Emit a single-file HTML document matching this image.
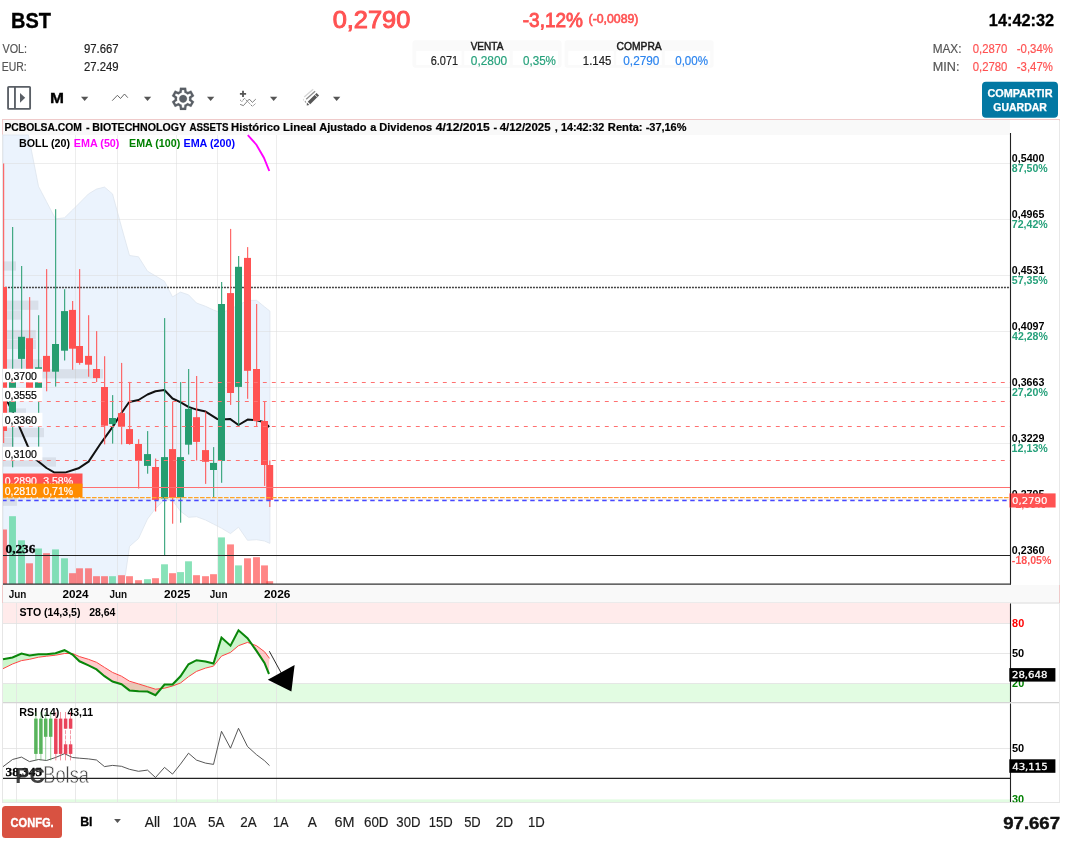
<!DOCTYPE html>
<html lang="es">
<head>
<meta charset="utf-8">
<title>BST - BIOTECHNOLOGY ASSETS</title>
<style>
html,body{margin:0;padding:0;background:#fff;}
body{width:1073px;height:843px;overflow:hidden;font-family:"Liberation Sans",sans-serif;}
svg{display:block;position:absolute;left:0;top:0;}
svg text{white-space:pre;}
</style>
</head>
<body>
<svg width="1073" height="843" viewBox="0 0 1073 843">
<defs>
<clipPath id="mainclip"><rect x="3" y="135" width="1007" height="449"/></clipPath>
<clipPath id="botclip"><rect x="3" y="703" width="1056" height="99.2"/></clipPath>
</defs>
<rect x="0" y="0" width="1073" height="843" fill="#fff"/>
<g id="header">
<text x="11.01" y="27.7" font-size="21.8" font-weight="bold" fill="#000" font-family="'Liberation Sans', sans-serif" text-anchor="start" textLength="39.93" lengthAdjust="spacingAndGlyphs" stroke="#000" stroke-width="0.35">BST</text>
<text x="2.43" y="52.7" font-size="12" font-weight="normal" fill="#555" font-family="'Liberation Sans', sans-serif" text-anchor="start" textLength="24.65" lengthAdjust="spacingAndGlyphs" stroke="#555" stroke-width="0.18">VOL:</text>
<text x="83.9" y="52.7" font-size="12" font-weight="normal" fill="#222" font-family="'Liberation Sans', sans-serif" text-anchor="start" textLength="34.68" lengthAdjust="spacingAndGlyphs" stroke="#222" stroke-width="0.18">97.667</text>
<text x="1.81" y="70.8" font-size="12" font-weight="normal" fill="#555" font-family="'Liberation Sans', sans-serif" text-anchor="start" textLength="24.92" lengthAdjust="spacingAndGlyphs" stroke="#555" stroke-width="0.18">EUR:</text>
<text x="83.88" y="70.8" font-size="12" font-weight="normal" fill="#222" font-family="'Liberation Sans', sans-serif" text-anchor="start" textLength="34.68" lengthAdjust="spacingAndGlyphs" stroke="#222" stroke-width="0.18">27.249</text>
<text x="332.67" y="27.7" font-size="24.7" font-weight="normal" fill="#ff5252" font-family="'Liberation Sans', sans-serif" text-anchor="start" textLength="77.72" lengthAdjust="spacingAndGlyphs" stroke="#ff5252" stroke-width="1.0">0,2790</text>
<text x="522.77" y="26.8" font-size="20.8" font-weight="normal" fill="#ff5252" font-family="'Liberation Sans', sans-serif" text-anchor="start" textLength="60.28" lengthAdjust="spacingAndGlyphs" stroke="#ff5252" stroke-width="0.9">-3,12%</text>
<text x="588.59" y="23.1" font-size="12" font-weight="normal" fill="#ff5252" font-family="'Liberation Sans', sans-serif" text-anchor="start" textLength="49.8" lengthAdjust="spacingAndGlyphs" stroke="#ff5252" stroke-width="0.6">(-0,0089)</text>
<text x="988.8" y="26" font-size="16.4" font-weight="bold" fill="#000" font-family="'Liberation Sans', sans-serif" text-anchor="start" textLength="65.39" lengthAdjust="spacingAndGlyphs" stroke="#000" stroke-width="0.3">14:42:32</text>
<text x="932.7" y="52.8" font-size="12" font-weight="normal" fill="#555" font-family="'Liberation Sans', sans-serif" text-anchor="start" textLength="28.82" lengthAdjust="spacingAndGlyphs" stroke="#555" stroke-width="0.18">MAX:</text>
<text x="972.72" y="52.8" font-size="12" font-weight="normal" fill="#ff5252" font-family="'Liberation Sans', sans-serif" text-anchor="start" textLength="34.62" lengthAdjust="spacingAndGlyphs" stroke="#ff5252" stroke-width="0.18">0,2870</text>
<text x="1016.83" y="52.8" font-size="12" font-weight="normal" fill="#ff5252" font-family="'Liberation Sans', sans-serif" text-anchor="start" textLength="36.09" lengthAdjust="spacingAndGlyphs" stroke="#ff5252" stroke-width="0.18">-0,34%</text>
<text x="932.83" y="70.6" font-size="12" font-weight="normal" fill="#555" font-family="'Liberation Sans', sans-serif" text-anchor="start" textLength="26.67" lengthAdjust="spacingAndGlyphs" stroke="#555" stroke-width="0.18">MIN:</text>
<text x="972.72" y="70.6" font-size="12" font-weight="normal" fill="#ff5252" font-family="'Liberation Sans', sans-serif" text-anchor="start" textLength="34.62" lengthAdjust="spacingAndGlyphs" stroke="#ff5252" stroke-width="0.18">0,2780</text>
<text x="1016.83" y="70.6" font-size="12" font-weight="normal" fill="#ff5252" font-family="'Liberation Sans', sans-serif" text-anchor="start" textLength="36.09" lengthAdjust="spacingAndGlyphs" stroke="#ff5252" stroke-width="0.18">-3,47%</text>
<rect x="412.5" y="40.3" width="149" height="27.4" rx="3" fill="#fafafa"/>
<rect x="416.2" y="51.1" width="45.4" height="14" fill="#fff"/>
<rect x="464.2" y="51.1" width="45.4" height="14" fill="#fff"/>
<rect x="512.7" y="51.1" width="45.4" height="14" fill="#fff"/>
<text x="470.64" y="49.6" font-size="10.6" font-weight="normal" fill="#1a1a1a" font-family="'Liberation Sans', sans-serif" text-anchor="start" textLength="32.74" lengthAdjust="spacingAndGlyphs" stroke="#1a1a1a" stroke-width="0.45">VENTA</text>
<text x="430.7" y="64.5" font-size="12" font-weight="normal" fill="#222" font-family="'Liberation Sans', sans-serif" text-anchor="start" textLength="27.39" lengthAdjust="spacingAndGlyphs" stroke="#222" stroke-width="0.18">6.071</text>
<text x="470.79" y="64.5" font-size="12" font-weight="normal" fill="#26a17b" font-family="'Liberation Sans', sans-serif" text-anchor="start" textLength="36.38" lengthAdjust="spacingAndGlyphs" stroke="#26a17b" stroke-width="0.18">0,2800</text>
<text x="523.01" y="64.5" font-size="12" font-weight="normal" fill="#26a17b" font-family="'Liberation Sans', sans-serif" text-anchor="start" textLength="32.93" lengthAdjust="spacingAndGlyphs" stroke="#26a17b" stroke-width="0.18">0,35%</text>
<rect x="564.6" y="40.3" width="149" height="27.4" rx="3" fill="#fafafa"/>
<rect x="568.3000000000001" y="51.1" width="45.4" height="14" fill="#fff"/>
<rect x="616.3000000000001" y="51.1" width="45.4" height="14" fill="#fff"/>
<rect x="664.8000000000001" y="51.1" width="45.4" height="14" fill="#fff"/>
<text x="616.55" y="49.6" font-size="10.6" font-weight="normal" fill="#1a1a1a" font-family="'Liberation Sans', sans-serif" text-anchor="start" textLength="45.13" lengthAdjust="spacingAndGlyphs" stroke="#1a1a1a" stroke-width="0.45">COMPRA</text>
<text x="582.85" y="64.5" font-size="12" font-weight="normal" fill="#222" font-family="'Liberation Sans', sans-serif" text-anchor="start" textLength="28.51" lengthAdjust="spacingAndGlyphs" stroke="#222" stroke-width="0.18">1.145</text>
<text x="623.3" y="64.5" font-size="12" font-weight="normal" fill="#2c84ee" font-family="'Liberation Sans', sans-serif" text-anchor="start" textLength="36.08" lengthAdjust="spacingAndGlyphs" stroke="#2c84ee" stroke-width="0.18">0,2790</text>
<text x="675.21" y="64.5" font-size="12" font-weight="normal" fill="#2c84ee" font-family="'Liberation Sans', sans-serif" text-anchor="start" textLength="32.81" lengthAdjust="spacingAndGlyphs" stroke="#2c84ee" stroke-width="0.18">0,00%</text>
</g>
<g id="toolbar">
<rect x="8.05" y="86.85" width="22.05" height="22" rx="0.7" fill="none" stroke="#5a5f66" stroke-width="1.85"/>
<line x1="14.95" y1="86.85" x2="14.95" y2="108.85" stroke="#5a5f66" stroke-width="1.85"/>
<path d="M20 92.9 L25.2 97.8 L20 102.7 Z" fill="#5a5f66"/>
<text x="49.91" y="102.8" font-size="14" font-weight="bold" fill="#000" font-family="'Liberation Sans', sans-serif" text-anchor="start" textLength="14.01" lengthAdjust="spacingAndGlyphs" stroke="#000" stroke-width="0.3">M</text>
<path d="M81 96.7 h7.3 l-3.65 4.3 Z" fill="#555"/>
<path d="M143.9 96.7 h7.3 l-3.65 4.3 Z" fill="#555"/>
<path d="M207 96.7 h7.3 l-3.65 4.3 Z" fill="#555"/>
<path d="M270 96.7 h7.3 l-3.65 4.3 Z" fill="#555"/>
<path d="M333 96.7 h7.3 l-3.65 4.3 Z" fill="#555"/>
<polyline points="112.2,100.7 117.4,95.3 120.5,98.5 124.5,94 127.8,97.7" fill="none" stroke="#555" stroke-width="0.9"/>
<g transform="translate(169.75,112.10) scale(0.02771)"><path d="m370-80-16-128q-13-5-24.5-12T307-235l-119 50L78-375l103-78q-1-7-1-13.5v-27q0-6.5 1-13.5L78-585l110-190 119 50q11-8 23-15t24-12l16-128h220l16 128q13 5 24.5 12t22.500 15l119-50 110 190-103 78q1 7 1 13.5v27q0 6.5-2 13.5l103 78-110 190-118-50q-11 8-23 15t-24 12L590-80H370Zm70-80h79l14-106q31-8 57.5-23.5T639-327l99 41 39-68-86-65q5-14 7-29.5t2-31.5q0-16-2-31.5t-7-29.5l86-65-39-68-99 42q-22-23-48.5-38.5T533-694l-13-106h-79l-14 106q-31 8-57.5 23.5T321-633l-99-41-39 68 86 64q-5 15-7 30t-2 32q0 16 2 31t7 30l-86 65 39 68 99-42q22 23 48.5 38.5T427-266l13 106Zm42-180q58 0 99-41t41-99q0-58-41-99t-99-41q-59 0-99.5 41T342-480q0 58 40.5 99t99.5 41Z" fill="#5a5f66" stroke="#5a5f66" stroke-width="7"/></g>
<path d="M239.9 93.9 h6.2 M243 90.8 v6.2" stroke="#555" stroke-width="1.8" fill="none"/>
<polyline points="240.1,104.4 243.4,105.6 249.3,99.1 252.4,102.4 255.8,99.1" fill="none" stroke="#555" stroke-width="0.75"/>
<polyline points="240.1,99.9 241.9,101.6 244.4,98.2 252.4,106.4 255.8,103.3" fill="none" stroke="#555" stroke-width="0.75" stroke-dasharray="1.5 0.8"/>
<line x1="309.0" y1="103.1" x2="317.8" y2="94.2" stroke="#575757" stroke-width="3.5"/>
<line x1="314.4" y1="94.2" x2="317.4" y2="97.2" stroke="#fff" stroke-width="0.8"/>
<path d="M306.9 102.6 L309.4 105.0 L306.7 105.4 Z" fill="#5a5a5a"/>
<line x1="306.2" y1="99.3" x2="315.1" y2="91.2" stroke="#8c8c8c" stroke-width="1.3"/>
<line x1="305.2" y1="100.8" x2="305.6" y2="102.6" stroke="#9a9a9a" stroke-width="1.1"/>
<line x1="304.2" y1="97.1" x2="313.2" y2="89.2" stroke="#d6d6d6" stroke-width="1.3"/>
<line x1="303.4" y1="98.8" x2="303.7" y2="100.6" stroke="#dcdcdc" stroke-width="1.1"/>
<rect x="982" y="81.8" width="76" height="36" rx="4" fill="#0378a3"/>
<text x="987.54" y="96.5" font-size="10.5" font-weight="bold" fill="#fff" font-family="'Liberation Sans', sans-serif" text-anchor="start" textLength="64.96" lengthAdjust="spacingAndGlyphs" stroke="#fff" stroke-width="0.25">COMPARTIR</text>
<text x="993.25" y="110.6" font-size="10.5" font-weight="bold" fill="#fff" font-family="'Liberation Sans', sans-serif" text-anchor="start" textLength="53.65" lengthAdjust="spacingAndGlyphs" stroke="#fff" stroke-width="0.25">GUARDAR</text>
</g>
<g id="chart">
<rect x="2.5" y="119.5" width="1057" height="683" fill="#fff" stroke="#efcaca" stroke-width="1"/>
<line x1="2.5" y1="134.5" x2="2.5" y2="585" stroke="#e6e6e6" stroke-width="1"/>
<line x1="1059.5" y1="120.5" x2="1059.5" y2="585" stroke="#e8e8e8" stroke-width="1"/>
<line x1="2.5" y1="603" x2="2.5" y2="803" stroke="#e6e6e6" stroke-width="1"/>
<line x1="1059.5" y1="603" x2="1059.5" y2="803" stroke="#e8e8e8" stroke-width="1"/>
<line x1="2" y1="802.5" x2="1060" y2="802.5" stroke="#e6e6e6" stroke-width="1"/>
<rect x="3" y="120" width="1007" height="15" fill="#f9f9f9"/>
<text x="4.39" y="130.8" font-size="11" font-weight="bold" fill="#000" font-family="'Liberation Sans', sans-serif" text-anchor="start" textLength="77.47" lengthAdjust="spacingAndGlyphs" stroke="#000" stroke-width="0.2">PCBOLSA.COM</text>
<text x="86.1" y="130.8" font-size="11" font-weight="bold" fill="#000" font-family="'Liberation Sans', sans-serif" text-anchor="start" stroke="#000" stroke-width="0.2">-</text>
<text x="92.27" y="130.8" font-size="11" font-weight="bold" fill="#000" font-family="'Liberation Sans', sans-serif" text-anchor="start" textLength="93.76" lengthAdjust="spacingAndGlyphs" stroke="#000" stroke-width="0.2">BIOTECHNOLOGY</text>
<text x="189.47" y="130.8" font-size="11" font-weight="bold" fill="#000" font-family="'Liberation Sans', sans-serif" text-anchor="start" textLength="39.09" lengthAdjust="spacingAndGlyphs" stroke="#000" stroke-width="0.2">ASSETS</text>
<text x="231.02" y="130.8" font-size="11" font-weight="bold" fill="#000" font-family="'Liberation Sans', sans-serif" text-anchor="start" textLength="48.9" lengthAdjust="spacingAndGlyphs" stroke="#000" stroke-width="0.2">Histórico</text>
<text x="283.12" y="130.8" font-size="11" font-weight="bold" fill="#000" font-family="'Liberation Sans', sans-serif" text-anchor="start" textLength="32.95" lengthAdjust="spacingAndGlyphs" stroke="#000" stroke-width="0.2">Lineal</text>
<text x="319.22" y="130.8" font-size="11" font-weight="bold" fill="#000" font-family="'Liberation Sans', sans-serif" text-anchor="start" textLength="47.28" lengthAdjust="spacingAndGlyphs" stroke="#000" stroke-width="0.2">Ajustado</text>
<text x="370.3" y="130.8" font-size="11" font-weight="bold" fill="#000" font-family="'Liberation Sans', sans-serif" text-anchor="start" stroke="#000" stroke-width="0.2">a</text>
<text x="379.34" y="130.8" font-size="11" font-weight="bold" fill="#000" font-family="'Liberation Sans', sans-serif" text-anchor="start" textLength="52.77" lengthAdjust="spacingAndGlyphs" stroke="#000" stroke-width="0.2">Dividenos</text>
<text x="435.79" y="130.8" font-size="11" font-weight="bold" fill="#000" font-family="'Liberation Sans', sans-serif" text-anchor="start" textLength="53.95" lengthAdjust="spacingAndGlyphs" stroke="#000" stroke-width="0.2">4/12/2015</text>
<text x="493.6" y="130.8" font-size="11" font-weight="bold" fill="#000" font-family="'Liberation Sans', sans-serif" text-anchor="start" stroke="#000" stroke-width="0.2">-</text>
<text x="499.7" y="130.8" font-size="11" font-weight="bold" fill="#000" font-family="'Liberation Sans', sans-serif" text-anchor="start" textLength="50.8" lengthAdjust="spacingAndGlyphs" stroke="#000" stroke-width="0.2">4/12/2025</text>
<text x="554.7" y="130.8" font-size="11" font-weight="bold" fill="#000" font-family="'Liberation Sans', sans-serif" text-anchor="start" stroke="#000" stroke-width="0.2">,</text>
<text x="560.89" y="130.8" font-size="11" font-weight="bold" fill="#000" font-family="'Liberation Sans', sans-serif" text-anchor="start" textLength="43.42" lengthAdjust="spacingAndGlyphs" stroke="#000" stroke-width="0.2">14:42:32</text>
<text x="607.83" y="130.8" font-size="11" font-weight="bold" fill="#000" font-family="'Liberation Sans', sans-serif" text-anchor="start" textLength="34.75" lengthAdjust="spacingAndGlyphs" stroke="#000" stroke-width="0.2">Renta:</text>
<text x="645.65" y="130.8" font-size="11" font-weight="bold" fill="#000" font-family="'Liberation Sans', sans-serif" text-anchor="start" textLength="40.83" lengthAdjust="spacingAndGlyphs" stroke="#000" stroke-width="0.2">-37,16%</text>
<polygon points="3,135 28.4,135 38.5,186.4 46.5,201.7 55.5,218.9 64.5,217.8 72.5,210 79.5,203 88.5,193.9 96.5,189.1 104.5,187.1 112.5,193.9 121.5,227 129.5,255.5 138.5,256.8 147.5,271.2 155.5,275.9 164.5,281.3 172.5,296.9 180.5,292.1 188.5,294.8 196.5,303 205.5,306.3 213.5,310 221.5,313 230.5,309 238.5,305 247.5,300.5 256.5,300.3 264.5,306.8 269.9,311.1 269.9,543.4 264.5,541 256.5,539.7 247.5,540.3 238.5,527.2 230.5,533.6 221.5,528.2 213.5,524.1 205.5,520 196.5,516.7 188.5,517.3 180.5,511.2 172.5,500.4 164.5,499.7 155.5,508.5 147.5,519 138.5,538.5 129.5,546.4 125.2,576 124,584 3,584" fill="#ebf3fd" stroke="#dde5ee" stroke-width="0.8"/>
<line x1="3" y1="163.5" x2="1010" y2="163.5" stroke="#dcdcdc" stroke-width="1" opacity="0.5"/>
<line x1="3" y1="219.5" x2="1010" y2="219.5" stroke="#dcdcdc" stroke-width="1" opacity="0.5"/>
<line x1="3" y1="275.5" x2="1010" y2="275.5" stroke="#dcdcdc" stroke-width="1" opacity="0.5"/>
<line x1="3" y1="331.5" x2="1010" y2="331.5" stroke="#dcdcdc" stroke-width="1" opacity="0.5"/>
<line x1="3" y1="387.5" x2="1010" y2="387.5" stroke="#dcdcdc" stroke-width="1" opacity="0.5"/>
<line x1="3" y1="443.5" x2="1010" y2="443.5" stroke="#dcdcdc" stroke-width="1" opacity="0.5"/>
<line x1="3" y1="499.5" x2="1010" y2="499.5" stroke="#dcdcdc" stroke-width="1" opacity="0.5"/>
<line x1="75.5" y1="135" x2="75.5" y2="584" stroke="#dcdcdc" stroke-width="1" opacity="0.5"/>
<line x1="117.5" y1="135" x2="117.5" y2="584" stroke="#dcdcdc" stroke-width="1" opacity="0.5"/>
<line x1="176.5" y1="135" x2="176.5" y2="584" stroke="#dcdcdc" stroke-width="1" opacity="0.5"/>
<line x1="217.5" y1="135" x2="217.5" y2="584" stroke="#dcdcdc" stroke-width="1" opacity="0.5"/>
<line x1="276.5" y1="135" x2="276.5" y2="584" stroke="#dcdcdc" stroke-width="1" opacity="0.5"/>
<rect x="3" y="261.35" width="13.0" height="9.3" fill="#000" opacity="0.075"/>
<rect x="3" y="300.55" width="35.4" height="9.3" fill="#000" opacity="0.075"/>
<rect x="3" y="310.35" width="17.8" height="9.3" fill="#000" opacity="0.075"/>
<rect x="3" y="329.95" width="32.8" height="9.3" fill="#000" opacity="0.075"/>
<rect x="3" y="339.75" width="33.0" height="9.3" fill="#000" opacity="0.075"/>
<rect x="3" y="359.35" width="39.0" height="9.3" fill="#000" opacity="0.075"/>
<rect x="3" y="369.15" width="100.0" height="9.3" fill="#000" opacity="0.075"/>
<rect x="3" y="408.35" width="23.0" height="9.3" fill="#000" opacity="0.075"/>
<rect x="3" y="427.95" width="41.0" height="9.3" fill="#000" opacity="0.075"/>
<rect x="3" y="437.75" width="11.0" height="9.3" fill="#000" opacity="0.075"/>
<rect x="3" y="457.35" width="53.0" height="9.3" fill="#000" opacity="0.075"/>
<rect x="3" y="496.55" width="14.0" height="9.3" fill="#000" opacity="0.075"/>
<polyline points="247.8,135.2 256.4,144.7 263.9,157.7 269.3,171" fill="none" stroke="#ff00ff" stroke-width="1.9"/>
<polyline points="3.5,400.3 8,402.8 12.5,411.5 18.9,425.7 27.7,446 35.9,459.5 46.5,468 54.1,472.4 65,472.6 78.5,468.3 88.6,461.6 100.8,443.3 113,426.4 121.1,413.5 129.2,402 138.5,400 147.5,394.5 155.5,391.3 164.4,390 172.5,398.5 180.3,402.2 188.4,406.9 196.6,409.6 205.6,411.6 217.1,418.9 221.5,419.5 230,418.9 238.5,425 247.6,419.6 256.5,420.3 264.5,422.3 269.2,427" fill="none" stroke="#111" stroke-width="2" stroke-linejoin="round" clip-path="url(#mainclip)"/>
<line x1="3" y1="287.5" x2="1010" y2="287.5" stroke="#444" stroke-width="1.35" stroke-dasharray="2 1" stroke-dashoffset="1.05"/>
<g clip-path="url(#mainclip)">
<rect x="0.04999999999999982" y="529.5" width="6.9" height="54.5" fill="#ff3b3b" opacity="0.62"/>
<rect x="9.05" y="516.2" width="6.9" height="67.8" fill="#3fd08c" opacity="0.62"/>
<rect x="18.05" y="540.3" width="6.9" height="43.7" fill="#3fd08c" opacity="0.62"/>
<rect x="26.05" y="563.3" width="6.9" height="20.7" fill="#ff3b3b" opacity="0.62"/>
<rect x="35.05" y="548.5" width="6.9" height="35.5" fill="#3fd08c" opacity="0.62"/>
<rect x="43.05" y="553.2" width="6.9" height="30.8" fill="#ff3b3b" opacity="0.62"/>
<rect x="52.05" y="549.4" width="6.9" height="34.6" fill="#3fd08c" opacity="0.62"/>
<rect x="61.05" y="558.3" width="6.9" height="25.7" fill="#3fd08c" opacity="0.62"/>
<rect x="69.05" y="573.2" width="6.9" height="10.8" fill="#ff3b3b" opacity="0.62"/>
<rect x="76.05" y="568.3" width="6.9" height="15.7" fill="#ff3b3b" opacity="0.62"/>
<rect x="85.05" y="568.3" width="6.9" height="15.7" fill="#ff3b3b" opacity="0.62"/>
<rect x="93.05" y="576.2" width="6.9" height="7.8" fill="#ff3b3b" opacity="0.62"/>
<rect x="101.05" y="576.2" width="6.9" height="7.8" fill="#ff3b3b" opacity="0.62"/>
<rect x="109.05" y="576.2" width="6.9" height="7.8" fill="#3fd08c" opacity="0.62"/>
<rect x="118.05" y="575.2" width="6.9" height="8.8" fill="#ff3b3b" opacity="0.62"/>
<rect x="126.05" y="576.2" width="6.9" height="7.8" fill="#ff3b3b" opacity="0.62"/>
<rect x="135.05" y="580.2" width="6.9" height="3.8" fill="#ff3b3b" opacity="0.62"/>
<rect x="144.05" y="579.2" width="6.9" height="4.8" fill="#3fd08c" opacity="0.62"/>
<rect x="152.05" y="578.2" width="6.9" height="5.8" fill="#ff3b3b" opacity="0.62"/>
<rect x="161.05" y="564.3" width="6.9" height="19.7" fill="#3fd08c" opacity="0.62"/>
<rect x="169.05" y="573.2" width="6.9" height="10.8" fill="#ff3b3b" opacity="0.62"/>
<rect x="177.05" y="572.1" width="6.9" height="11.9" fill="#3fd08c" opacity="0.62"/>
<rect x="185.05" y="561.3" width="6.9" height="22.7" fill="#3fd08c" opacity="0.62"/>
<rect x="193.05" y="575.2" width="6.9" height="8.8" fill="#ff3b3b" opacity="0.62"/>
<rect x="202.05" y="576.2" width="6.9" height="7.8" fill="#ff3b3b" opacity="0.62"/>
<rect x="210.05" y="574.2" width="6.9" height="9.8" fill="#ff3b3b" opacity="0.62"/>
<rect x="218.05" y="537.4" width="6.9" height="46.6" fill="#3fd08c" opacity="0.62"/>
<rect x="227.05" y="544.4" width="6.9" height="39.6" fill="#ff3b3b" opacity="0.62"/>
<rect x="235.05" y="565.4" width="6.9" height="18.6" fill="#3fd08c" opacity="0.62"/>
<rect x="244.05" y="558.3" width="6.9" height="25.7" fill="#ff3b3b" opacity="0.62"/>
<rect x="253.05" y="557.2" width="6.9" height="26.8" fill="#ff3b3b" opacity="0.62"/>
<rect x="261.05" y="565.4" width="6.9" height="18.6" fill="#ff3b3b" opacity="0.62"/>
<rect x="266.25" y="581.2" width="6.9" height="2.8" fill="#ff3b3b" opacity="0.62"/>
<line x1="3.6" y1="163.4" x2="3.6" y2="443" stroke="#ff5252" stroke-width="1.25" opacity="0.85"/>
<rect x="0.0" y="287" width="7" height="144.0" fill="#ff5252"/>
<line x1="12.6" y1="227" x2="12.6" y2="467.3" stroke="#269d70" stroke-width="1.25" opacity="0.85"/>
<rect x="9.0" y="375" width="7" height="37.3" fill="#269d70"/>
<line x1="21.6" y1="266" x2="21.6" y2="375" stroke="#269d70" stroke-width="1.25" opacity="0.85"/>
<rect x="18.0" y="336.8" width="7" height="22.1" fill="#269d70"/>
<line x1="29.6" y1="297.1" x2="29.6" y2="398" stroke="#ff5252" stroke-width="1.25" opacity="0.85"/>
<rect x="26.0" y="338.2" width="7" height="55.8" fill="#ff5252"/>
<line x1="38.6" y1="315.2" x2="38.6" y2="446.7" stroke="#269d70" stroke-width="1.25" opacity="0.85"/>
<rect x="35.0" y="367.3" width="7" height="27.7" fill="#269d70"/>
<line x1="46.6" y1="269.1" x2="46.6" y2="391.3" stroke="#ff5252" stroke-width="1.25" opacity="0.85"/>
<rect x="43.0" y="355.9" width="7" height="15.8" fill="#ff5252"/>
<line x1="55.6" y1="209.2" x2="55.6" y2="386.6" stroke="#269d70" stroke-width="1.25" opacity="0.85"/>
<rect x="52.0" y="344" width="7" height="27.7" fill="#269d70"/>
<line x1="64.6" y1="289.2" x2="64.6" y2="360.5" stroke="#269d70" stroke-width="1.25" opacity="0.85"/>
<rect x="61.0" y="311.1" width="7" height="39.6" fill="#269d70"/>
<line x1="72.6" y1="301" x2="72.6" y2="369.7" stroke="#ff5252" stroke-width="1.25" opacity="0.85"/>
<rect x="69.0" y="309.9" width="7" height="38.8" fill="#ff5252"/>
<line x1="79.6" y1="269.1" x2="79.6" y2="364.7" stroke="#ff5252" stroke-width="1.25" opacity="0.85"/>
<rect x="76.0" y="346" width="7" height="16.9" fill="#ff5252"/>
<line x1="88.6" y1="315.2" x2="88.6" y2="376.7" stroke="#ff5252" stroke-width="1.25" opacity="0.85"/>
<rect x="85.0" y="355.9" width="7" height="8.8" fill="#ff5252"/>
<line x1="96.6" y1="331.1" x2="96.6" y2="382.1" stroke="#ff5252" stroke-width="1.25" opacity="0.85"/>
<rect x="93.0" y="369" width="7" height="9.1" fill="#ff5252"/>
<line x1="104.6" y1="356.2" x2="104.6" y2="444.4" stroke="#ff5252" stroke-width="1.25" opacity="0.85"/>
<rect x="101.0" y="387" width="7" height="38.7" fill="#ff5252"/>
<line x1="112.6" y1="395.1" x2="112.6" y2="443.6" stroke="#269d70" stroke-width="1.25" opacity="0.85"/>
<rect x="109.0" y="418" width="7" height="6.1" fill="#269d70"/>
<line x1="121.6" y1="362.9" x2="121.6" y2="444.4" stroke="#ff5252" stroke-width="1.25" opacity="0.85"/>
<rect x="118.0" y="413.1" width="7" height="13.6" fill="#ff5252"/>
<line x1="129.6" y1="381.9" x2="129.6" y2="444.8" stroke="#ff5252" stroke-width="1.25" opacity="0.85"/>
<rect x="126.0" y="429.1" width="7" height="14.9" fill="#ff5252"/>
<line x1="138.6" y1="439.2" x2="138.6" y2="488.6" stroke="#ff5252" stroke-width="1.25" opacity="0.85"/>
<rect x="135.0" y="444" width="7" height="16.9" fill="#ff5252"/>
<line x1="147.6" y1="431.1" x2="147.6" y2="473.7" stroke="#269d70" stroke-width="1.25" opacity="0.85"/>
<rect x="144.0" y="454.1" width="7" height="11.8" fill="#269d70"/>
<line x1="155.6" y1="458.5" x2="155.6" y2="511.5" stroke="#ff5252" stroke-width="1.25" opacity="0.85"/>
<rect x="152.0" y="467" width="7" height="32.9" fill="#ff5252"/>
<line x1="164.6" y1="318.1" x2="164.6" y2="555.2" stroke="#269d70" stroke-width="1.25" opacity="0.85"/>
<rect x="161.0" y="457.1" width="7" height="41.4" fill="#269d70"/>
<line x1="172.6" y1="401.5" x2="172.6" y2="523.7" stroke="#ff5252" stroke-width="1.25" opacity="0.85"/>
<rect x="169.0" y="449.1" width="7" height="48.6" fill="#ff5252"/>
<line x1="180.6" y1="382.1" x2="180.6" y2="522.7" stroke="#269d70" stroke-width="1.25" opacity="0.85"/>
<rect x="177.0" y="457.1" width="7" height="40.3" fill="#269d70"/>
<line x1="188.6" y1="369" x2="188.6" y2="454.5" stroke="#269d70" stroke-width="1.25" opacity="0.85"/>
<rect x="185.0" y="408.9" width="7" height="35.8" fill="#269d70"/>
<line x1="196.6" y1="376" x2="196.6" y2="460.5" stroke="#ff5252" stroke-width="1.25" opacity="0.85"/>
<rect x="193.0" y="417.2" width="7" height="24.7" fill="#ff5252"/>
<line x1="205.6" y1="411.5" x2="205.6" y2="483.9" stroke="#ff5252" stroke-width="1.25" opacity="0.85"/>
<rect x="202.0" y="450.1" width="7" height="11.7" fill="#ff5252"/>
<line x1="213.6" y1="447.1" x2="213.6" y2="497.2" stroke="#269d70" stroke-width="1.25" opacity="0.85"/>
<rect x="210.0" y="462.9" width="7" height="7.1" fill="#269d70"/>
<line x1="221.6" y1="282" x2="221.6" y2="482.8" stroke="#269d70" stroke-width="1.25" opacity="0.85"/>
<rect x="218.0" y="304" width="7" height="156.9" fill="#269d70"/>
<line x1="230.6" y1="228.9" x2="230.6" y2="404.9" stroke="#ff5252" stroke-width="1.25" opacity="0.85"/>
<rect x="227.0" y="293.1" width="7" height="99.9" fill="#ff5252"/>
<line x1="238.6" y1="256" x2="238.6" y2="425.7" stroke="#269d70" stroke-width="1.25" opacity="0.85"/>
<rect x="235.0" y="266.8" width="7" height="120.1" fill="#269d70"/>
<line x1="247.6" y1="247.1" x2="247.6" y2="398.8" stroke="#ff5252" stroke-width="1.25" opacity="0.85"/>
<rect x="244.0" y="257.9" width="7" height="112.9" fill="#ff5252"/>
<line x1="256.6" y1="304" x2="256.6" y2="426.4" stroke="#ff5252" stroke-width="1.25" opacity="0.85"/>
<rect x="253.0" y="369" width="7" height="52.0" fill="#ff5252"/>
<line x1="264.6" y1="401.5" x2="264.6" y2="485.9" stroke="#ff5252" stroke-width="1.25" opacity="0.85"/>
<rect x="261.0" y="421" width="7" height="44.0" fill="#ff5252"/>
<line x1="269.8" y1="460.5" x2="269.8" y2="506.9" stroke="#ff5252" stroke-width="1.25" opacity="0.85"/>
<rect x="266.2" y="465" width="7" height="34.9" fill="#ff5252"/>
</g>
<line x1="3" y1="382.5" x2="1010" y2="382.5" stroke="#ff7070" stroke-width="1" stroke-dasharray="3.9 5.1" stroke-dashoffset="1.15"/>
<line x1="3" y1="401.5" x2="1010" y2="401.5" stroke="#ff7070" stroke-width="1" stroke-dasharray="3.9 5.1" stroke-dashoffset="1.15"/>
<line x1="3" y1="426.5" x2="1010" y2="426.5" stroke="#ff7070" stroke-width="1" stroke-dasharray="3.9 5.1" stroke-dashoffset="1.15"/>
<line x1="3" y1="460.5" x2="1010" y2="460.5" stroke="#ff7070" stroke-width="1" stroke-dasharray="3.9 5.1" stroke-dashoffset="1.15"/>
<line x1="3" y1="487.5" x2="1010" y2="487.5" stroke="#ff7070" stroke-width="1.05"/>
<line x1="3" y1="497.5" x2="1010" y2="497.5" stroke="#ffa428" stroke-width="1.25" stroke-dasharray="4.6 1.4" stroke-dashoffset="0.98"/>
<line x1="3" y1="500.5" x2="1010" y2="500.5" stroke="#4545ff" stroke-width="1.35" stroke-dasharray="4.4 3.6" stroke-dashoffset="0.75"/>
<line x1="3" y1="555.5" x2="1010" y2="555.5" stroke="#222" stroke-width="1.1"/>
<rect x="3" y="368.8" width="39.4" height="13.5" fill="#fff"/>
<text x="4.65" y="380.0" font-size="11" font-weight="normal" fill="#000" font-family="'Liberation Sans', sans-serif" text-anchor="start" textLength="32.24" lengthAdjust="spacingAndGlyphs" stroke="#000" stroke-width="0.2">0,3700</text>
<rect x="3" y="387.8" width="39.4" height="13.5" fill="#fff"/>
<text x="4.65" y="399.0" font-size="11" font-weight="normal" fill="#000" font-family="'Liberation Sans', sans-serif" text-anchor="start" textLength="32.31" lengthAdjust="spacingAndGlyphs" stroke="#000" stroke-width="0.2">0,3555</text>
<rect x="3" y="412.8" width="39.4" height="13.5" fill="#fff"/>
<text x="4.65" y="424.0" font-size="11" font-weight="normal" fill="#000" font-family="'Liberation Sans', sans-serif" text-anchor="start" textLength="32.24" lengthAdjust="spacingAndGlyphs" stroke="#000" stroke-width="0.2">0,3360</text>
<rect x="3" y="446.8" width="39.4" height="13.5" fill="#fff"/>
<text x="4.65" y="458.0" font-size="11" font-weight="normal" fill="#000" font-family="'Liberation Sans', sans-serif" text-anchor="start" textLength="32.24" lengthAdjust="spacingAndGlyphs" stroke="#000" stroke-width="0.2">0,3100</text>
<rect x="3" y="473.5" width="79.5" height="13.6" fill="#ff5252"/>
<text x="4.76" y="485.3" font-size="10.5" font-weight="normal" fill="#fff" font-family="'Liberation Sans', sans-serif" text-anchor="start" textLength="32.06" lengthAdjust="spacingAndGlyphs" stroke="#fff" stroke-width="0.2">0,2890</text>
<text x="43.2" y="485.3" font-size="10.5" font-weight="normal" fill="#fff" font-family="'Liberation Sans', sans-serif" text-anchor="start" textLength="29.88" lengthAdjust="spacingAndGlyphs" stroke="#fff" stroke-width="0.2">3,58%</text>
<rect x="3" y="483.6" width="79.5" height="13.6" fill="#ff8c00"/>
<text x="4.76" y="495.4" font-size="10.5" font-weight="normal" fill="#fff" font-family="'Liberation Sans', sans-serif" text-anchor="start" textLength="32.06" lengthAdjust="spacingAndGlyphs" stroke="#fff" stroke-width="0.2">0,2810</text>
<text x="43.35" y="495.4" font-size="10.5" font-weight="normal" fill="#fff" font-family="'Liberation Sans', sans-serif" text-anchor="start" textLength="29.73" lengthAdjust="spacingAndGlyphs" stroke="#fff" stroke-width="0.2">0,71%</text>
<text x="5.51" y="552.9" font-size="13.3" font-weight="bold" fill="#000" font-family="'Liberation Serif', serif" text-anchor="start" textLength="29.86" lengthAdjust="spacingAndGlyphs" stroke="#000" stroke-width="0.3">0,236</text>
<text x="19.06" y="146.7" font-size="10.5" font-weight="bold" fill="#000" font-family="'Liberation Sans', sans-serif" text-anchor="start" textLength="51.0" lengthAdjust="spacingAndGlyphs">BOLL (20)</text>
<text x="73.86" y="146.7" font-size="10.5" font-weight="bold" fill="#ff00ff" font-family="'Liberation Sans', sans-serif" text-anchor="start" textLength="45.57" lengthAdjust="spacingAndGlyphs">EMA (50)</text>
<text x="129.06" y="146.7" font-size="10.5" font-weight="bold" fill="#008000" font-family="'Liberation Sans', sans-serif" text-anchor="start" textLength="51.15" lengthAdjust="spacingAndGlyphs">EMA (100)</text>
<text x="183.45" y="146.7" font-size="10.5" font-weight="bold" fill="#0000ff" font-family="'Liberation Sans', sans-serif" text-anchor="start" textLength="51.76" lengthAdjust="spacingAndGlyphs">EMA (200)</text>
<line x1="1010.5" y1="133" x2="1010.5" y2="584.5" stroke="#222" stroke-width="1.1"/>
<line x1="3" y1="584.2" x2="1011" y2="584.2" stroke="#333" stroke-width="1.3"/>
<text x="1011.84" y="161.6" font-size="10.5" font-weight="bold" fill="#000" font-family="'Liberation Sans', sans-serif" text-anchor="start" textLength="32.59" lengthAdjust="spacingAndGlyphs">0,5400</text>
<text x="1011.89" y="171.7" font-size="10.5" font-weight="bold" fill="#26a17b" font-family="'Liberation Sans', sans-serif" text-anchor="start" textLength="35.92" lengthAdjust="spacingAndGlyphs">87,50%</text>
<text x="1011.85" y="217.6" font-size="10.5" font-weight="bold" fill="#000" font-family="'Liberation Sans', sans-serif" text-anchor="start" textLength="32.46" lengthAdjust="spacingAndGlyphs">0,4965</text>
<text x="1011.82" y="227.7" font-size="10.5" font-weight="bold" fill="#26a17b" font-family="'Liberation Sans', sans-serif" text-anchor="start" textLength="35.99" lengthAdjust="spacingAndGlyphs">72,42%</text>
<text x="1011.85" y="273.6" font-size="10.5" font-weight="bold" fill="#000" font-family="'Liberation Sans', sans-serif" text-anchor="start" textLength="32.44" lengthAdjust="spacingAndGlyphs">0,4531</text>
<text x="1011.75" y="283.7" font-size="10.5" font-weight="bold" fill="#26a17b" font-family="'Liberation Sans', sans-serif" text-anchor="start" textLength="36.05" lengthAdjust="spacingAndGlyphs">57,35%</text>
<text x="1011.84" y="329.6" font-size="10.5" font-weight="bold" fill="#000" font-family="'Liberation Sans', sans-serif" text-anchor="start" textLength="32.61" lengthAdjust="spacingAndGlyphs">0,4097</text>
<text x="1012.11" y="339.7" font-size="10.5" font-weight="bold" fill="#26a17b" font-family="'Liberation Sans', sans-serif" text-anchor="start" textLength="35.69" lengthAdjust="spacingAndGlyphs">42,28%</text>
<text x="1011.84" y="385.6" font-size="10.5" font-weight="bold" fill="#000" font-family="'Liberation Sans', sans-serif" text-anchor="start" textLength="32.56" lengthAdjust="spacingAndGlyphs">0,3663</text>
<text x="1011.91" y="395.7" font-size="10.5" font-weight="bold" fill="#26a17b" font-family="'Liberation Sans', sans-serif" text-anchor="start" textLength="35.9" lengthAdjust="spacingAndGlyphs">27,20%</text>
<text x="1011.85" y="441.6" font-size="10.5" font-weight="bold" fill="#000" font-family="'Liberation Sans', sans-serif" text-anchor="start" textLength="32.55" lengthAdjust="spacingAndGlyphs">0,3229</text>
<text x="1011.61" y="451.7" font-size="10.5" font-weight="bold" fill="#26a17b" font-family="'Liberation Sans', sans-serif" text-anchor="start" textLength="36.2" lengthAdjust="spacingAndGlyphs">12,13%</text>
<text x="1011.85" y="497.6" font-size="10.5" font-weight="bold" fill="#000" font-family="'Liberation Sans', sans-serif" text-anchor="start" textLength="32.46" lengthAdjust="spacingAndGlyphs">0,2795</text>
<text x="1011.86" y="507.7" font-size="10.5" font-weight="bold" fill="#ff5252" font-family="'Liberation Sans', sans-serif" text-anchor="start" textLength="33.76" lengthAdjust="spacingAndGlyphs">-2,95%</text>
<text x="1011.84" y="553.6" font-size="10.5" font-weight="bold" fill="#000" font-family="'Liberation Sans', sans-serif" text-anchor="start" textLength="32.59" lengthAdjust="spacingAndGlyphs">0,2360</text>
<text x="1011.86" y="563.7" font-size="10.5" font-weight="bold" fill="#ff5252" font-family="'Liberation Sans', sans-serif" text-anchor="start" textLength="39.61" lengthAdjust="spacingAndGlyphs">-18,05%</text>
<rect x="1009.4" y="493.4" width="46.2" height="14.1" fill="#ff5252"/>
<line x1="1010.5" y1="493.4" x2="1010.5" y2="507.5" stroke="#4a1515" stroke-width="1" opacity="0.9"/>
<text x="1011.95" y="504.1" font-size="9.3" font-weight="normal" fill="#fff" font-family="'DejaVu Sans', sans-serif" text-anchor="start" textLength="35.56" lengthAdjust="spacingAndGlyphs" stroke="#fff" stroke-width="0.12">0,2790</text>
<rect x="3" y="585" width="1056" height="17.5" fill="#f9f9f9"/>
<line x1="3" y1="603" x2="1059" y2="603" stroke="#e6e6e6" stroke-width="1.4"/>
<text x="8.68" y="597.8" font-size="10.5" font-weight="bold" fill="#111" font-family="'Liberation Sans', sans-serif" text-anchor="start" textLength="17.69" lengthAdjust="spacingAndGlyphs">Jun</text>
<text x="62.47" y="597.8" font-size="11.5" font-weight="bold" fill="#000" font-family="'Liberation Sans', sans-serif" text-anchor="start" textLength="26.07" lengthAdjust="spacingAndGlyphs">2024</text>
<text x="109.48" y="597.8" font-size="10.5" font-weight="bold" fill="#111" font-family="'Liberation Sans', sans-serif" text-anchor="start" textLength="17.69" lengthAdjust="spacingAndGlyphs">Jun</text>
<text x="163.97" y="597.8" font-size="11.5" font-weight="bold" fill="#000" font-family="'Liberation Sans', sans-serif" text-anchor="start" textLength="26.37" lengthAdjust="spacingAndGlyphs">2025</text>
<text x="209.78" y="597.8" font-size="10.5" font-weight="bold" fill="#111" font-family="'Liberation Sans', sans-serif" text-anchor="start" textLength="17.69" lengthAdjust="spacingAndGlyphs">Jun</text>
<text x="263.96" y="597.8" font-size="11.5" font-weight="bold" fill="#000" font-family="'Liberation Sans', sans-serif" text-anchor="start" textLength="26.47" lengthAdjust="spacingAndGlyphs">2026</text>
</g>
<g id="sto">
<rect x="3" y="603" width="1007" height="20.4" fill="#ffebeb"/>
<rect x="3" y="683.6" width="1007" height="18.6" fill="#e2fce2"/>
<rect x="3" y="799.4" width="1007" height="2.7" fill="#e2fce2"/>
<line x1="16.5" y1="603" x2="16.5" y2="802" stroke="#e4e4e4" stroke-width="1" opacity="0.8"/>
<line x1="75.5" y1="603" x2="75.5" y2="802" stroke="#e4e4e4" stroke-width="1" opacity="0.8"/>
<line x1="117.5" y1="603" x2="117.5" y2="802" stroke="#e4e4e4" stroke-width="1" opacity="0.8"/>
<line x1="176.5" y1="603" x2="176.5" y2="802" stroke="#e4e4e4" stroke-width="1" opacity="0.8"/>
<line x1="217.5" y1="603" x2="217.5" y2="802" stroke="#e4e4e4" stroke-width="1" opacity="0.8"/>
<line x1="276.5" y1="603" x2="276.5" y2="802" stroke="#e4e4e4" stroke-width="1" opacity="0.8"/>
<line x1="3" y1="623.5" x2="1010" y2="623.5" stroke="#e2e2e2" stroke-width="1" opacity="0.8"/>
<line x1="3" y1="653.5" x2="1010" y2="653.5" stroke="#e2e2e2" stroke-width="1" opacity="0.8"/>
<line x1="3" y1="683.5" x2="1010" y2="683.5" stroke="#e2e2e2" stroke-width="1" opacity="0.8"/>
<line x1="3" y1="748.5" x2="1010" y2="748.5" stroke="#e2e2e2" stroke-width="1" opacity="0.8"/>
<line x1="3" y1="702.6" x2="1059" y2="702.6" stroke="#d4d4d4" stroke-width="1.2"/>
<clipPath id="aboveD"><polygon points="3,668.7 12.5,664 21.5,660.6 29.5,659.3 38.5,657.2 46.5,656.2 55.5,655.2 64.5,653.5 72.5,653.5 79.5,656.6 88.5,659.3 96.5,662.3 104.5,667.4 112.5,672.4 121.5,676.2 129.5,681.2 138.5,683.9 147.5,686.7 155.5,689.2 164.5,688.2 172.5,686 180.5,683 188.5,676.7 196.5,671.4 205.5,668.1 213.5,666.1 221.5,656.1 230.5,652.4 238.5,645.7 247.5,642.4 256.5,645.7 264.5,651.7 269.5,658.4 269.5,600 3,600"/></clipPath>
<clipPath id="belowD"><polygon points="3,668.7 12.5,664 21.5,660.6 29.5,659.3 38.5,657.2 46.5,656.2 55.5,655.2 64.5,653.5 72.5,653.5 79.5,656.6 88.5,659.3 96.5,662.3 104.5,667.4 112.5,672.4 121.5,676.2 129.5,681.2 138.5,683.9 147.5,686.7 155.5,689.2 164.5,688.2 172.5,686 180.5,683 188.5,676.7 196.5,671.4 205.5,668.1 213.5,666.1 221.5,656.1 230.5,652.4 238.5,645.7 247.5,642.4 256.5,645.7 264.5,651.7 269.5,658.4 269.5,705 3,705"/></clipPath>
<polygon points="3,659.3 12.5,657.5 21.5,653.6 29.5,655.5 38.5,654.3 46.5,654.3 55.5,653.2 64.5,650.2 72.5,654.5 79.5,661.3 88.5,665.4 96.5,669.4 104.5,676.2 112.5,681.6 121.5,684.3 129.5,690.4 138.5,691.3 147.5,691.5 155.5,695.2 164.5,684.5 172.5,684.5 180.5,676.3 188.5,664.3 196.5,660.2 205.5,661.4 213.5,663.6 221.5,637.5 230.5,645.7 238.5,630.3 247.5,638.2 256.5,650.9 264.5,662.9 269,674 269.5,658.4 264.5,651.7 256.5,645.7 247.5,642.4 238.5,645.7 230.5,652.4 221.5,656.1 213.5,666.1 205.5,668.1 196.5,671.4 188.5,676.7 180.5,683 172.5,686 164.5,688.2 155.5,689.2 147.5,686.7 138.5,683.9 129.5,681.2 121.5,676.2 112.5,672.4 104.5,667.4 96.5,662.3 88.5,659.3 79.5,656.6 72.5,653.5 64.5,653.5 55.5,655.2 46.5,656.2 38.5,657.2 29.5,659.3 21.5,660.6 12.5,664 3,668.7" fill="#00d200" fill-opacity="0.2" clip-path="url(#aboveD)"/>
<polygon points="3,659.3 12.5,657.5 21.5,653.6 29.5,655.5 38.5,654.3 46.5,654.3 55.5,653.2 64.5,650.2 72.5,654.5 79.5,661.3 88.5,665.4 96.5,669.4 104.5,676.2 112.5,681.6 121.5,684.3 129.5,690.4 138.5,691.3 147.5,691.5 155.5,695.2 164.5,684.5 172.5,684.5 180.5,676.3 188.5,664.3 196.5,660.2 205.5,661.4 213.5,663.6 221.5,637.5 230.5,645.7 238.5,630.3 247.5,638.2 256.5,650.9 264.5,662.9 269,674 269.5,658.4 264.5,651.7 256.5,645.7 247.5,642.4 238.5,645.7 230.5,652.4 221.5,656.1 213.5,666.1 205.5,668.1 196.5,671.4 188.5,676.7 180.5,683 172.5,686 164.5,688.2 155.5,689.2 147.5,686.7 138.5,683.9 129.5,681.2 121.5,676.2 112.5,672.4 104.5,667.4 96.5,662.3 88.5,659.3 79.5,656.6 72.5,653.5 64.5,653.5 55.5,655.2 46.5,656.2 38.5,657.2 29.5,659.3 21.5,660.6 12.5,664 3,668.7" fill="#ff0000" fill-opacity="0.2" clip-path="url(#belowD)"/>
<polyline points="3,668.7 12.5,664 21.5,660.6 29.5,659.3 38.5,657.2 46.5,656.2 55.5,655.2 64.5,653.5 72.5,653.5 79.5,656.6 88.5,659.3 96.5,662.3 104.5,667.4 112.5,672.4 121.5,676.2 129.5,681.2 138.5,683.9 147.5,686.7 155.5,689.2 164.5,688.2 172.5,686 180.5,683 188.5,676.7 196.5,671.4 205.5,668.1 213.5,666.1 221.5,656.1 230.5,652.4 238.5,645.7 247.5,642.4 256.5,645.7 264.5,651.7 269.5,658.4" fill="none" stroke="#ff4545" stroke-width="1"/>
<polyline points="3,659.3 12.5,657.5 21.5,653.6 29.5,655.5 38.5,654.3 46.5,654.3 55.5,653.2 64.5,650.2 72.5,654.5 79.5,661.3 88.5,665.4 96.5,669.4 104.5,676.2 112.5,681.6 121.5,684.3 129.5,690.4 138.5,691.3 147.5,691.5 155.5,695.2 164.5,684.5 172.5,684.5 180.5,676.3 188.5,664.3 196.5,660.2 205.5,661.4 213.5,663.6 221.5,637.5 230.5,645.7 238.5,630.3 247.5,638.2 256.5,650.9 264.5,662.9 269,674" fill="none" stroke="#0a860a" stroke-width="2.05" stroke-linejoin="miter"/>
<line x1="269.3" y1="651.2" x2="281.5" y2="673.5" stroke="#111" stroke-width="0.9"/>
<polygon points="267.8,679.7 294.6,665.0 291.4,691.6" fill="#000"/>
<text x="19.57" y="616" font-size="10.5" font-weight="bold" fill="#000" font-family="'Liberation Sans', sans-serif" text-anchor="start" textLength="60.95" lengthAdjust="spacingAndGlyphs">STO (14,3,5)</text>
<text x="89.21" y="616" font-size="10.5" font-weight="bold" fill="#000" font-family="'Liberation Sans', sans-serif" text-anchor="start" textLength="26.22" lengthAdjust="spacingAndGlyphs">28,64</text>
<line x1="1010.5" y1="603.5" x2="1010.5" y2="702" stroke="#222" stroke-width="1.1"/>
<text x="1012.08" y="626.6" font-size="10.5" font-weight="bold" fill="#ff0000" font-family="'Liberation Sans', sans-serif" text-anchor="start" textLength="12.12" lengthAdjust="spacingAndGlyphs">80</text>
<text x="1011.94" y="656.9" font-size="10.5" font-weight="bold" fill="#000" font-family="'Liberation Sans', sans-serif" text-anchor="start" textLength="12.27" lengthAdjust="spacingAndGlyphs">50</text>
<text x="1012.1" y="686.6" font-size="10.5" font-weight="bold" fill="#008000" font-family="'Liberation Sans', sans-serif" text-anchor="start" textLength="12.1" lengthAdjust="spacingAndGlyphs">20</text>
<rect x="1009.3" y="668.1" width="46.1" height="13.5" fill="#000"/>
<text x="1011.94" y="678.1" font-size="9.3" font-weight="normal" fill="#fff" font-family="'DejaVu Sans', sans-serif" text-anchor="start" textLength="35.54" lengthAdjust="spacingAndGlyphs" stroke="#fff" stroke-width="0.28">28,648</text>
</g>
<g id="rsi">
<polyline points="3,766.7 12.5,759.5 21.5,757.1 29.5,761.6 38.5,759.5 46.5,760.5 55.5,757.5 64.5,753.7 72.5,757.5 79.5,758.2 88.5,758.9 96.5,760 104.5,766.6 112.5,765.4 121.5,766.3 129.5,769.3 138.5,771.3 147.5,770.1 155.5,777.5 164.5,767.4 172.5,774.1 180.5,764.1 188.5,753.2 196.5,760.1 205.5,763.1 213.5,764.4 221.5,731.3 230.5,748.2 238.5,728.3 247.5,746.5 256.5,754.7 264.5,760.7 269.5,765.6" fill="none" stroke="#444" stroke-width="0.9"/>
<line x1="3" y1="778.4" x2="1010" y2="778.4" stroke="#222" stroke-width="1.1"/>
<text x="19.36" y="716" font-size="10.5" font-weight="bold" fill="#000" font-family="'Liberation Sans', sans-serif" text-anchor="start" textLength="39.88" lengthAdjust="spacingAndGlyphs">RSI (14)</text>
<text x="67.42" y="716" font-size="10.5" font-weight="bold" fill="#000" font-family="'Liberation Sans', sans-serif" text-anchor="start" textLength="25.57" lengthAdjust="spacingAndGlyphs">43,11</text>
<text x="5.51" y="775.6" font-size="13.3" font-weight="bold" fill="#000" font-family="'Liberation Serif', serif" text-anchor="start" textLength="36.53" lengthAdjust="spacingAndGlyphs" stroke="#000" stroke-width="0.3">38,345</text>
<g id="logo" opacity="0.93">
<line x1="35.9" y1="712" x2="35.9" y2="760.4" stroke="#4caf50" stroke-width="0.8" opacity="0.75"/>
<line x1="40.9" y1="712" x2="40.9" y2="760.4" stroke="#4caf50" stroke-width="0.8" opacity="0.75"/>
<line x1="45.7" y1="712" x2="45.7" y2="760.4" stroke="#4caf50" stroke-width="0.8" opacity="0.75"/>
<line x1="50.7" y1="712" x2="50.7" y2="760.4" stroke="#4caf50" stroke-width="0.8" opacity="0.75"/>
<line x1="55.8" y1="712" x2="55.8" y2="760.4" stroke="#e8364f" stroke-width="0.8" opacity="0.75"/>
<line x1="60.6" y1="712" x2="60.6" y2="760.4" stroke="#e8364f" stroke-width="0.8" opacity="0.75"/>
<line x1="65.6" y1="712" x2="65.6" y2="760.4" stroke="#e8364f" stroke-width="0.8" opacity="0.75" stroke-dasharray="17 1.2 4 1.2 4 1.2 4 1.2 30"/>
<line x1="70.6" y1="712" x2="70.6" y2="760.4" stroke="#e8364f" stroke-width="0.8" opacity="0.75" stroke-dasharray="17 1.2 4 1.2 4 1.2 4 1.2 30"/>
<rect x="34.15" y="718.6" width="3.5" height="35.3" fill="#4caf50"/>
<rect x="39.15" y="718.6" width="3.5" height="35.3" fill="#4caf50"/>
<rect x="43.95" y="718.6" width="3.5" height="18.2" fill="#4caf50"/>
<rect x="48.95" y="718.6" width="3.5" height="18.2" fill="#4caf50"/>
<rect x="54.05" y="718.6" width="3.5" height="35.3" fill="#e8364f"/>
<rect x="58.85" y="718.6" width="3.5" height="35.3" fill="#e8364f"/>
<rect x="63.849999999999994" y="718.6" width="3.5" height="10.1" fill="#e8364f"/>
<rect x="63.849999999999994" y="744.3" width="3.5" height="9.6" fill="#e8364f"/>
<rect x="68.85" y="718.6" width="3.5" height="10.1" fill="#e8364f"/>
<rect x="68.85" y="744.3" width="3.5" height="9.6" fill="#e8364f"/>
<text x="15.25" y="783.1" font-size="22.8" font-weight="bold" fill="#262626" font-family="'Liberation Sans', sans-serif" text-anchor="start" textLength="29.56" lengthAdjust="spacingAndGlyphs" opacity="0.95">PC</text>
<mask id="thinmask" maskUnits="userSpaceOnUse" x="40" y="760" width="60" height="30"><text x="43.28" y="783.1" font-size="23.8" font-weight="normal" fill="#fff" font-family="'Liberation Sans', sans-serif" text-anchor="start" textLength="45.69" lengthAdjust="spacingAndGlyphs" stroke="#000" stroke-width="0.8">Bolsa</text></mask>
<rect x="40" y="760" width="60" height="30" fill="#333" mask="url(#thinmask)"/>
</g>
<line x1="1010.5" y1="703.5" x2="1010.5" y2="802" stroke="#222" stroke-width="1.1"/>
<text x="1011.94" y="752" font-size="10.5" font-weight="bold" fill="#000" font-family="'Liberation Sans', sans-serif" text-anchor="start" textLength="12.27" lengthAdjust="spacingAndGlyphs">50</text>
<g clip-path="url(#botclip)"><text x="1012.07" y="802.6" font-size="10.5" font-weight="bold" fill="#008000" font-family="'Liberation Sans', sans-serif" text-anchor="start" textLength="12.13" lengthAdjust="spacingAndGlyphs">30</text></g>
<rect x="1009.3" y="759.3" width="46.1" height="13.5" fill="#000"/>
<text x="1012.2" y="769.5" font-size="9.3" font-weight="normal" fill="#fff" font-family="'DejaVu Sans', sans-serif" text-anchor="start" textLength="35.47" lengthAdjust="spacingAndGlyphs" stroke="#fff" stroke-width="0.28">43,115</text>
</g>
<g id="footer">
<rect x="2" y="806" width="60" height="32" rx="3.5" fill="#d85241"/>
<text x="10.51" y="826.9" font-size="12.2" font-weight="bold" fill="#fff" font-family="'Liberation Sans', sans-serif" text-anchor="start" textLength="43.22" lengthAdjust="spacingAndGlyphs" stroke="#fff" stroke-width="0.4">CONFG.</text>
<text x="80.2" y="825.5" font-size="12.2" font-weight="bold" fill="#000" font-family="'Liberation Sans', sans-serif" text-anchor="start" textLength="12.35" lengthAdjust="spacingAndGlyphs" stroke="#000" stroke-width="0.3">Bl</text>
<path d="M114.1 819 h6.8 l-3.4 4.1 Z" fill="#555"/>
<text x="144.83" y="826.9" font-size="14" font-weight="normal" fill="#1c1c1c" font-family="'Liberation Sans', sans-serif" text-anchor="start" textLength="15.29" lengthAdjust="spacingAndGlyphs" stroke="#1c1c1c" stroke-width="0.15">All</text>
<text x="172.85" y="826.9" font-size="14" font-weight="normal" fill="#1c1c1c" font-family="'Liberation Sans', sans-serif" text-anchor="start" textLength="23.36" lengthAdjust="spacingAndGlyphs" stroke="#1c1c1c" stroke-width="0.15">10A</text>
<text x="207.93" y="826.9" font-size="14" font-weight="normal" fill="#1c1c1c" font-family="'Liberation Sans', sans-serif" text-anchor="start" textLength="16.41" lengthAdjust="spacingAndGlyphs" stroke="#1c1c1c" stroke-width="0.15">5A</text>
<text x="240.28" y="826.9" font-size="14" font-weight="normal" fill="#1c1c1c" font-family="'Liberation Sans', sans-serif" text-anchor="start" textLength="16.36" lengthAdjust="spacingAndGlyphs" stroke="#1c1c1c" stroke-width="0.15">2A</text>
<text x="272.88" y="826.9" font-size="14" font-weight="normal" fill="#1c1c1c" font-family="'Liberation Sans', sans-serif" text-anchor="start" textLength="15.63" lengthAdjust="spacingAndGlyphs" stroke="#1c1c1c" stroke-width="0.15">1A</text>
<text x="307.82" y="826.9" font-size="14" font-weight="normal" fill="#1c1c1c" font-family="'Liberation Sans', sans-serif" text-anchor="start" textLength="9.11" lengthAdjust="spacingAndGlyphs" stroke="#1c1c1c" stroke-width="0.15">A</text>
<text x="334.41" y="826.9" font-size="14" font-weight="normal" fill="#1c1c1c" font-family="'Liberation Sans', sans-serif" text-anchor="start" textLength="20.04" lengthAdjust="spacingAndGlyphs" stroke="#1c1c1c" stroke-width="0.15">6M</text>
<text x="363.96" y="826.9" font-size="14" font-weight="normal" fill="#1c1c1c" font-family="'Liberation Sans', sans-serif" text-anchor="start" textLength="24.59" lengthAdjust="spacingAndGlyphs" stroke="#1c1c1c" stroke-width="0.15">60D</text>
<text x="396.33" y="826.9" font-size="14" font-weight="normal" fill="#1c1c1c" font-family="'Liberation Sans', sans-serif" text-anchor="start" textLength="24.12" lengthAdjust="spacingAndGlyphs" stroke="#1c1c1c" stroke-width="0.15">30D</text>
<text x="428.76" y="826.9" font-size="14" font-weight="normal" fill="#1c1c1c" font-family="'Liberation Sans', sans-serif" text-anchor="start" textLength="23.99" lengthAdjust="spacingAndGlyphs" stroke="#1c1c1c" stroke-width="0.15">15D</text>
<text x="464.16" y="826.9" font-size="14" font-weight="normal" fill="#1c1c1c" font-family="'Liberation Sans', sans-serif" text-anchor="start" textLength="16.58" lengthAdjust="spacingAndGlyphs" stroke="#1c1c1c" stroke-width="0.15">5D</text>
<text x="495.66" y="826.9" font-size="14" font-weight="normal" fill="#1c1c1c" font-family="'Liberation Sans', sans-serif" text-anchor="start" textLength="17.44" lengthAdjust="spacingAndGlyphs" stroke="#1c1c1c" stroke-width="0.15">2D</text>
<text x="527.95" y="826.9" font-size="14" font-weight="normal" fill="#1c1c1c" font-family="'Liberation Sans', sans-serif" text-anchor="start" textLength="16.8" lengthAdjust="spacingAndGlyphs" stroke="#1c1c1c" stroke-width="0.15">1D</text>
<text x="1003.34" y="829.2" font-size="16" font-weight="bold" fill="#111" font-family="'Liberation Sans', sans-serif" text-anchor="start" textLength="56.63" lengthAdjust="spacingAndGlyphs" stroke="#111" stroke-width="0.45">97.667</text>
</g>
</svg>
</body>
</html>
